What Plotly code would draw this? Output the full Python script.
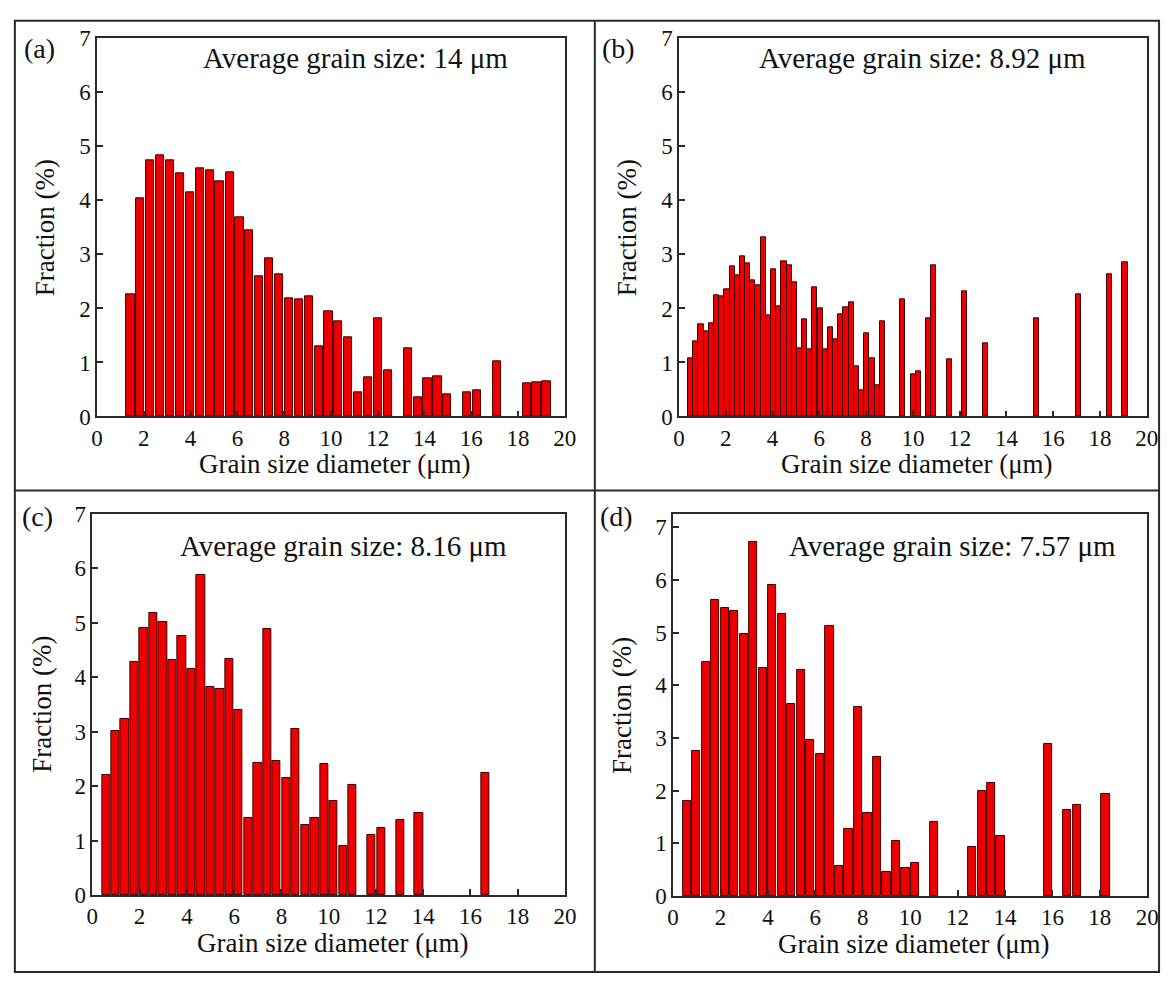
import plotly.graph_objects as go

# ---------------- data ----------------
A_X = [1.43, 1.85, 2.28, 2.70, 3.12, 3.55, 3.97, 4.39, 4.82, 5.24, 5.67, 6.09, 6.51, 6.94,
       7.36, 7.78, 8.21, 8.63, 9.05, 9.48, 9.90, 10.32, 10.75, 11.17, 11.59, 12.02, 12.44,
       13.29, 13.71, 14.13, 14.56, 14.98, 15.83, 16.25, 17.10, 18.37, 18.79, 19.22]
A_Y = [2.26, 4.03, 4.75, 4.83, 4.75, 4.50, 4.15, 4.60, 4.55, 4.35, 4.52, 3.69, 3.45, 2.60,
       2.92, 2.63, 2.19, 2.17, 2.22, 1.29, 1.95, 1.76, 1.46, 0.45, 0.72, 1.82, 0.85,
       1.27, 0.35, 0.71, 0.75, 0.41, 0.45, 0.48, 1.03, 0.61, 0.63, 0.65]

B_X = [0.50, 0.72, 0.94, 1.16, 1.39, 1.61, 1.83, 2.05, 2.27, 2.49, 2.71, 2.94, 3.16, 3.38,
       3.60, 3.82, 4.04, 4.26, 4.49, 4.71, 4.93, 5.15, 5.37, 5.59, 5.81, 6.04, 6.26, 6.48,
       6.70, 6.92, 7.14, 7.36, 7.58, 7.81, 8.03, 8.25, 8.47, 8.69,
       9.57, 10.01, 10.23, 10.66, 10.89, 11.55, 12.22, 13.10, 15.30, 17.07, 18.39, 19.07]
B_Y = [1.07, 1.40, 1.70, 1.58, 1.73, 2.24, 2.22, 2.36, 2.78, 2.61, 2.96, 2.83, 2.53, 2.42,
       3.31, 1.87, 2.73, 2.04, 2.87, 2.80, 2.48, 1.27, 1.79, 1.25, 2.40, 2.01, 1.24, 1.65,
       1.43, 1.89, 2.02, 2.11, 0.92, 0.48, 1.54, 1.07, 0.57, 1.77,
       2.17, 0.78, 0.83, 1.81, 2.80, 1.06, 2.32, 1.35, 1.82, 2.27, 2.64, 2.86]

C_X = [0.58, 0.98, 1.38, 1.78, 2.18, 2.58, 2.98, 3.38, 3.79, 4.19, 4.59, 4.99, 5.39, 5.79,
       6.19, 6.60, 7.00, 7.40, 7.80, 8.20, 8.60, 9.00, 9.41, 9.81, 10.21, 10.61, 11.01,
       11.81, 12.22, 13.02, 13.82, 16.63]
C_Y = [2.21, 3.02, 3.23, 4.29, 4.90, 5.18, 5.01, 4.31, 4.76, 4.15, 5.88, 3.83, 3.78, 4.34,
       3.40, 1.41, 2.43, 4.88, 2.47, 2.15, 3.05, 1.29, 1.42, 2.40, 1.72, 0.91, 2.03,
       1.11, 1.24, 1.38, 1.50, 2.25]

D_X = [0.58, 0.98, 1.38, 1.78, 2.18, 2.58, 2.98, 3.38, 3.79, 4.19, 4.59, 4.99, 5.39, 5.79,
       6.19, 6.60, 7.00, 7.40, 7.80, 8.20, 8.60, 9.00, 9.41, 9.81, 10.21,
       11.01, 12.62, 13.02, 13.42, 13.82, 15.83, 16.63, 17.03, 18.24]
D_Y = [1.80, 2.75, 4.44, 5.62, 5.46, 5.41, 4.98, 6.72, 4.33, 5.91, 5.35, 3.64, 4.29, 2.97,
       2.69, 5.12, 0.57, 1.27, 3.58, 1.57, 2.64, 0.46, 1.05, 0.54, 0.62,
       1.41, 0.93, 1.99, 2.14, 1.14, 2.88, 1.64, 1.72, 1.94]

PANEL_LABELS = ["(a)", "(b)", "(c)", "(d)"]
AVG_TEXT = ["Average grain size: 14 μm", "Average grain size: 8.92 μm",
            "Average grain size: 8.16 μm", "Average grain size: 7.57 μm"]
X_TITLE = "Grain size diameter (μm)"
Y_TITLE = "Fraction (%)"
Y_MAX = [7, 7, 7, 7.25]
BAR_W = [0.35, 0.22, 0.35, 0.35]

# ---------------- layout geometry (pixels) ----------------
W, H = 1175, 988
FONT = "Liberation Serif"
INK = "#2a2a2a"
RED = "#ee0000"
TXT = "#111111"

boxes = [  # x0, x1, ytop, ybottom in pixels
    (92.5, 567.5, 27, 415),
    (683.5, 1158.5, 27, 415),
    (87.7, 567.7, 515, 906),
    (677.5, 1159.0, 515, 907),
]
avg_pos = [(355, 47), (931, 47), (343, 548), (961, 548)]
label_pos = [(34, 37), (622, 37), (32, 518), (620, 518)]

def px(x):
    return x / W

def py(y):
    return 1 - y / H

series = [(A_X, A_Y), (B_X, B_Y), (C_X, C_Y), (D_X, D_Y)]

fig = go.Figure()
layout = dict(
    width=W, height=H, margin=dict(l=0, r=0, t=0, b=0),
    paper_bgcolor="white", plot_bgcolor="white",
    showlegend=False, bargap=0,
    font=dict(family=FONT, color=TXT, size=23),
)
annotations = []
shapes = []

for i, ((xs, ys), (x0, x1, yt, yb)) in enumerate(zip(series, boxes)):
    n = "" if i == 0 else str(i + 1)
    fig.add_trace(go.Bar(
        x=xs, y=ys, width=BAR_W[i],
        marker=dict(color=RED, line=dict(color="#3a0000", width=1)),
        xaxis="x" + n, yaxis="y" + n,
    ))
    axis_common = dict(
        showline=True, linecolor=INK, linewidth=1.5, mirror=True,
        ticks="inside", ticklen=6, tickwidth=1.5, tickcolor=INK,
        showgrid=False, zeroline=False, tickfont=dict(size=23, family=FONT, color=TXT),
    )
    layout["xaxis" + n] = dict(domain=[px(x0), px(x1)], anchor="y" + n, range=[0, 20],
                               dtick=2, tick0=0, **axis_common)
    layout["yaxis" + n] = dict(domain=[py(yb), py(yt)], anchor="x" + n, range=[0, Y_MAX[i]],
                               dtick=1, tick0=0, **axis_common)
    cx = (x0 + x1) / 2
    annotations.append(dict(text=X_TITLE, x=px(cx + 4), y=py(yb + 49), xref="paper", yref="paper",
                            showarrow=False, font=dict(size=27, family=FONT, color=TXT),
                            xanchor="center", yanchor="middle"))
    annotations.append(dict(text=Y_TITLE, x=px(x0 - 52), y=py((yt + yb) / 2), xref="paper",
                            yref="paper", showarrow=False, textangle=-90,
                            font=dict(size=27, family=FONT, color=TXT),
                            xanchor="center", yanchor="middle"))
    ax, ay = avg_pos[i]
    annotations.append(dict(text=AVG_TEXT[i], x=px(ax), y=py(ay), xref="paper",
                            yref="paper", showarrow=False,
                            font=dict(size=29, family=FONT, color=TXT),
                            xanchor="center", yanchor="middle"))

for lab, (lx, ly) in zip(PANEL_LABELS, label_pos):
    annotations.append(dict(text=lab, x=px(lx), y=py(ly), xref="paper", yref="paper",
                            showarrow=False, font=dict(size=28, family=FONT, color=TXT),
                            xanchor="center", yanchor="middle"))

shapes.append(dict(type="rect", xref="paper", yref="paper", x0=px(9), x1=px(1171),
                   y0=py(985), y1=py(9), line=dict(color=INK, width=2)))
shapes.append(dict(type="line", xref="paper", yref="paper", x0=px(598), x1=px(598),
                   y0=py(985), y1=py(9), line=dict(color=INK, width=2)))
shapes.append(dict(type="line", xref="paper", yref="paper", x0=px(9), x1=px(1171),
                   y0=py(491), y1=py(491), line=dict(color=INK, width=2)))

layout["annotations"] = annotations
layout["shapes"] = shapes
fig.update_layout(**layout)
fig.write_html("out.html",
               post_script="document.body.style.margin='0';document.body.style.overflow='hidden';")
